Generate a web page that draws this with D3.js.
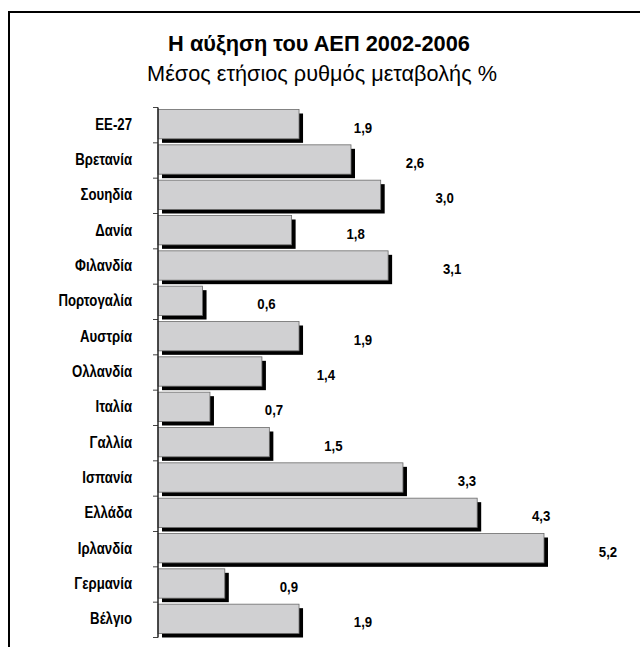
<!DOCTYPE html>
<html>
<head>
<meta charset="utf-8">
<script src="https://cdn.jsdelivr.net/npm/d3@7"></script>
<style>
  body { margin: 0; background: #fff; }
  text { font-family: "Liberation Sans", Arial, sans-serif; }
</style>
</head>
<body>
<div class="chart-box"></div>
<script>
var countries = ["ΕΕ-27", "Βρετανία", "Σουηδία", "Δανία", "Φιλανδία", "Πορτογαλία", "Αυστρία",
  "Ολλανδία", "Ιταλία", "Γαλλία", "Ισπανία", "Ελλάδα", "Ιρλανδία", "Γερμανία", "Βέλγιο"];
var growth = [1.9, 2.6, 3.0, 1.8, 3.1, 0.6, 1.9, 1.4, 0.7, 1.5, 3.3, 4.3, 5.2, 0.9, 1.9];

var title_text = "Η αύξηση του ΑΕΠ 2002-2006";
var subtitle_text = "Μέσος ετήσιος ρυθμός μεταβολής %";

var data = countries.map(function(c, i) { return {country: c, value: growth[i]}; });

var width = 640, height = 647;
var cat_narrow = 0.8;   // squeeze the labels to look like a condensed face
var val_narrow = 0.88;

var svg = d3.select(".chart-box").append("svg")
    .attr("width", width)
    .attr("height", height);

// frame: top and left edges only
svg.append("line")
    .attr("x1", 8).attr("x2", width)
    .attr("y1", 12).attr("y2", 12)
    .attr("stroke", "#000").attr("stroke-width", 2);
svg.append("line")
    .attr("x1", 9).attr("x2", 9)
    .attr("y1", 11).attr("y2", height)
    .attr("stroke", "#000").attr("stroke-width", 2);

// titles, squeezed to the reference widths
function fitted(txt, cx, cy, size, weight, w) {
  var g = svg.append("g").attr("transform", "translate(" + cx + "," + cy + ")");
  var t = g.append("text")
      .attr("text-anchor", "middle")
      .style("font-size", size + "px")
      .style("font-weight", weight)
      .text(txt);
  var len = t.node().getComputedTextLength();
  t.attr("transform", "scale(" + (w / len) + ",1)");
}
fitted(title_text, 319, 51, 22, "bold", 302);
fitted(subtitle_text, 322, 81, 22, "normal", 350);

var x = d3.scaleLinear()
    .domain([0, 5.2])
    .range([158, 544]);

var y = d3.scaleBand()
    .domain(countries)
    .range([107.5, 637.5])
    .paddingInner(0)
    .paddingOuter(0);

var bar_h = y.bandwidth() - 6;

// tick marks at band edges
var edges = countries.map(function(c) { return y(c); }).concat([y.range()[1]]);
svg.selectAll(".tick-mark")
    .data(edges)
  .enter().append("line")
    .attr("class", "tick-mark")
    .attr("x1", 153).attr("x2", 158)
    .attr("y1", function(d) { return d; })
    .attr("y2", function(d) { return d; })
    .attr("stroke", "#444").attr("stroke-width", 1);

// shadows
svg.selectAll(".shadow")
    .data(data)
  .enter().append("rect")
    .attr("class", "shadow")
    .attr("x", x(0) + 4)
    .attr("y", function(d) { return y(d.country) + 2 + 4; })
    .attr("width", function(d) { return x(d.value) - x(0); })
    .attr("height", bar_h)
    .attr("fill", "#000");

svg.selectAll(".bar")
    .data(data)
  .enter().append("rect")
    .attr("class", "bar")
    .attr("x", x(0))
    .attr("y", function(d) { return y(d.country) + 2; })
    .attr("width", function(d) { return x(d.value) - x(0); })
    .attr("height", bar_h)
    .attr("fill", "#d0d0d2")
    .attr("stroke", "#6a6a6a")
    .attr("stroke-width", 0.8);

svg.append("line")
    .attr("x1", 158).attr("x2", 158)
    .attr("y1", y.range()[0]).attr("y2", y.range()[1])
    .attr("stroke", "#222").attr("stroke-width", 1.5);

svg.selectAll(".cat")
    .data(data)
  .enter().append("g")
    .attr("class", "cat")
    .attr("transform", function(d) {
      return "translate(132," + (y(d.country) + y.bandwidth() / 2 + 4.5) + ") scale(" + cat_narrow + ",1)";
    })
  .append("text")
    .attr("text-anchor", "end")
    .style("font-size", "16.5px")
    .style("font-weight", "bold")
    .text(function(d) { return d.country; });

svg.selectAll(".val")
    .data(data)
  .enter().append("g")
    .attr("class", "val")
    .attr("transform", function(d) {
      return "translate(" + (x(d.value) + 64) + "," + (y(d.country) + y.bandwidth() / 2 + 7.5) + ") scale(" + val_narrow + ",1)";
    })
  .append("text")
    .attr("text-anchor", "middle")
    .style("font-size", "15px")
    .style("font-weight", "bold")
    .text(function(d) { return d3.format(".1f")(d.value).replace(".", ","); });
</script>
</body>
</html>
